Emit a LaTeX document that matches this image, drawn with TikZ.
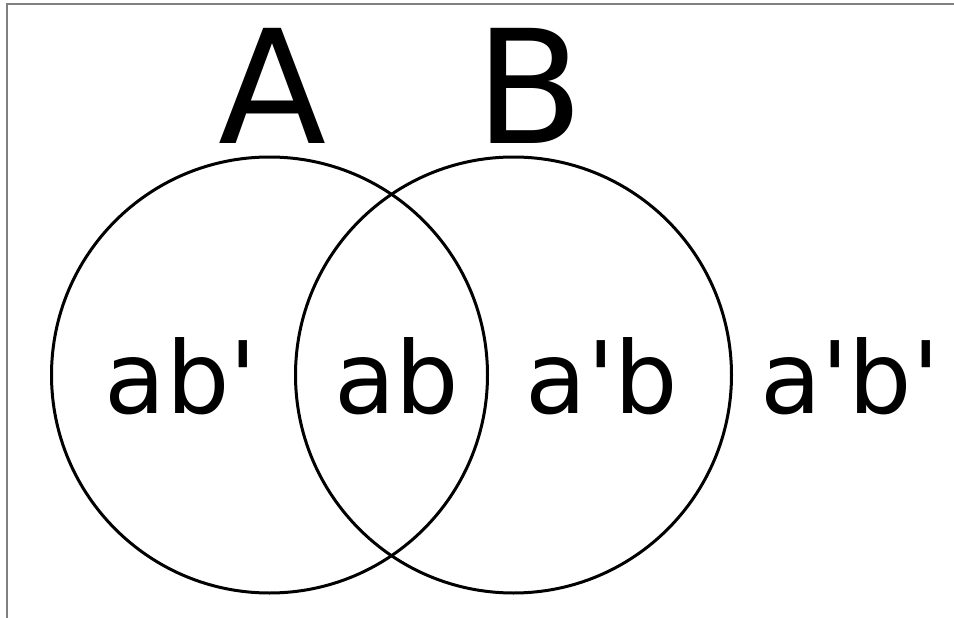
\documentclass[tikz,border=0pt]{standalone}
\usepackage{fontspec}
\newfontfamily\vennfont{DejaVu Sans}

\begin{document}
\begin{tikzpicture}[x=1pt, y=-1pt,
          every node/.style={inner sep=0pt},
          setcirc/.style={draw, circle, line width=3pt, minimum size=436pt},
          region/.style={anchor=base, font=\vennfont\fontsize{100}{100}\selectfont},
          setname/.style={anchor=base, font=\vennfont\fontsize{158}{158}\selectfont}]
        % Diagram: two equal sets A and B overlapping, region labels on one
        % baseline, outside region a'b' to the right.
        % Coordinates: (x,y) in px from the top left corner
        \useasboundingbox (0,0) rectangle (954,618);
        \draw[gray, line width=1.5pt] (7,618) -- (7,4) -- (954,4);
        \node[setcirc] (SA) at (269.5,375) {};
        \node[setcirc] (SB) at (513.5,375) {};
        \node[setname] (LA) at (273,143) {A};
        \node[setname] (LB) at (530,143) {B};
        \node[region] (R1) at (181,413) {ab\textquotesingle};
        \node[region] (R2) at (397,413) {ab};
        \node[region] (R3) at (602,413) {a\textquotesingle b};
        \node[region] (R4) at (850,413) {a\textquotesingle b\textquotesingle};
      \end{tikzpicture}
\end{document}
